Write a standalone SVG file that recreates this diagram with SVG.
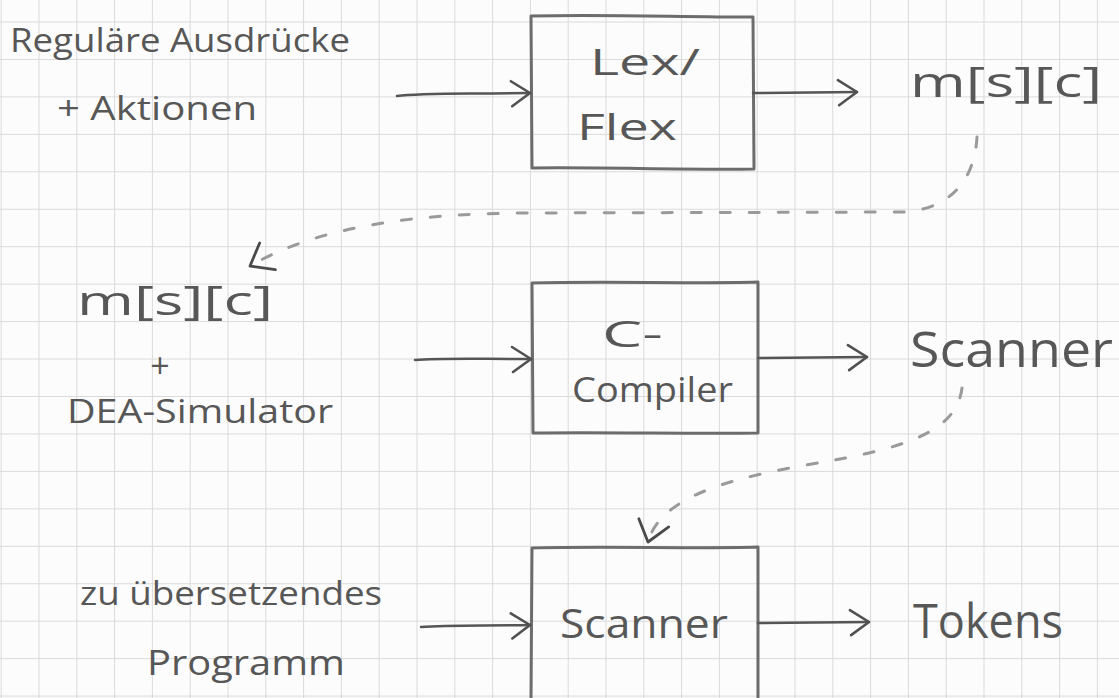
<svg xmlns="http://www.w3.org/2000/svg" width="1119" height="698" viewBox="0 0 1119 698">
  <defs>
    <!-- squared paper -->
    <pattern id="grid" patternUnits="userSpaceOnUse" x="38.5" y="21.5" width="37.8" height="37.45">
      <path d="M0.5 0 V37.45 M0 0.5 H37.8" fill="none" stroke="#dadada" stroke-width="1"/>
    </pattern>
    <!-- open pencil arrowhead -->
    <marker id="head" markerUnits="userSpaceOnUse" markerWidth="40" markerHeight="40" refX="0" refY="0" orient="auto" overflow="visible">
      <path d="M-19,-12 L0,0 L-18,13" fill="none" stroke="#505050" stroke-width="2.6" stroke-linecap="round" stroke-linejoin="round"/>
    </marker>
    <marker id="headWide" markerUnits="userSpaceOnUse" markerWidth="40" markerHeight="40" refX="0" refY="0" orient="auto" overflow="visible">
      <path d="M-20,-16 L0,0 L-20,15" fill="none" stroke="#4a4a4a" stroke-width="2.8" stroke-linecap="round" stroke-linejoin="round"/>
    </marker>
    <style>
      .hand { font-family: "Open Sans", "Liberation Sans", sans-serif; fill: #575757; }
      .box { fill: none; stroke: #6c6c6c; stroke-width: 3; stroke-linejoin: round; stroke-linecap: round; }
      .wire { fill: none; stroke: #555555; stroke-width: 2.5; stroke-linecap: round; marker-end: url(#head); }
      .dash { fill: none; stroke: #9a9a9a; stroke-width: 3; stroke-linecap: round; stroke-dasharray: 10 19; marker-end: url(#headWide); }
    </style>
  </defs>

  <rect width="1119" height="698" fill="#fcfcfc"/>
  <rect width="1119" height="698" fill="url(#grid)"/>

  <!-- row 1 -->
  <g id="node-regex">
    <text class="hand" x="10" y="52" font-size="33" textLength="340" lengthAdjust="spacingAndGlyphs">Reguläre Ausdrücke</text>
    <text class="hand" x="57" y="120" font-size="33" textLength="200" lengthAdjust="spacingAndGlyphs">+ Aktionen</text>
  </g>
  <g id="node-lexflex">
    <path class="box" d="M531 16 C 600 14, 680 17, 753 17 L 754 169 C 680 170, 600 167, 532 168 Z"/>
    <text class="hand" x="590" y="75" font-size="36" textLength="110" lengthAdjust="spacingAndGlyphs">Lex/</text>
    <text class="hand" x="577" y="140" font-size="36" textLength="100" lengthAdjust="spacingAndGlyphs">Flex</text>
  </g>
  <g id="node-table-out">
    <text class="hand" x="910" y="97" font-size="42" textLength="192" lengthAdjust="spacingAndGlyphs">m[s][c]</text>
  </g>

  <!-- row 2 -->
  <g id="node-table-sim">
    <text class="hand" x="77" y="315" font-size="40" textLength="196" lengthAdjust="spacingAndGlyphs">m[s][c]</text>
    <text class="hand" x="160" y="378" font-size="34" text-anchor="middle">+</text>
    <text class="hand" x="67" y="423" font-size="32" textLength="266" lengthAdjust="spacingAndGlyphs">DEA-Simulator</text>
  </g>
  <g id="node-ccompiler">
    <path class="box" d="M532 283 C 610 281, 690 284, 758 282 L 758 433 C 690 434, 610 432, 533 433 Z"/>
    <text class="hand" x="602" y="347" font-size="36" textLength="61" lengthAdjust="spacingAndGlyphs">C-</text>
    <text class="hand" x="572" y="402" font-size="34" textLength="161" lengthAdjust="spacingAndGlyphs">Compiler</text>
  </g>
  <g id="node-scanner-out">
    <text class="hand" x="910" y="367" font-size="50" textLength="203" lengthAdjust="spacingAndGlyphs">Scanner</text>
  </g>

  <!-- row 3 -->
  <g id="node-program">
    <text class="hand" x="80" y="605" font-size="32" textLength="302" lengthAdjust="spacingAndGlyphs">zu übersetzendes</text>
    <text class="hand" x="147" y="675" font-size="34" textLength="198" lengthAdjust="spacingAndGlyphs">Programm</text>
  </g>
  <g id="node-scanner">
    <path class="box" d="M532 548 C 610 546, 690 549, 758 547 L 758 702 M532 548 L 531 702"/>
    <text class="hand" x="560" y="638" font-size="40" textLength="168" lengthAdjust="spacingAndGlyphs">Scanner</text>
  </g>
  <g id="node-tokens">
    <text class="hand" x="913" y="638" font-size="48" textLength="150" lengthAdjust="spacingAndGlyphs">Tokens</text>
  </g>

  <!-- connectors -->
  <g id="connectors">
    <path class="wire" d="M397 96 C 420 93, 450 94, 530 93"/>
    <path class="wire" d="M753 93 L 857 92"/>
    <path class="wire" d="M415 360 C 440 358, 470 359, 531 359"/>
    <path class="wire" d="M758 358 L 867 357"/>
    <path class="wire" d="M421 627 C 450 625, 490 626, 530 625"/>
    <path class="wire" d="M758 623 L 869 622"/>
    <path class="dash" d="M977 137 C 975 175, 955 208, 905 212 L 520 213 C 420 214, 320 225, 250 266"/>
    <path class="dash" d="M962 388 C 958 420, 930 440, 860 455 C 790 470, 665 480, 648 542"/>
  </g>
</svg>
